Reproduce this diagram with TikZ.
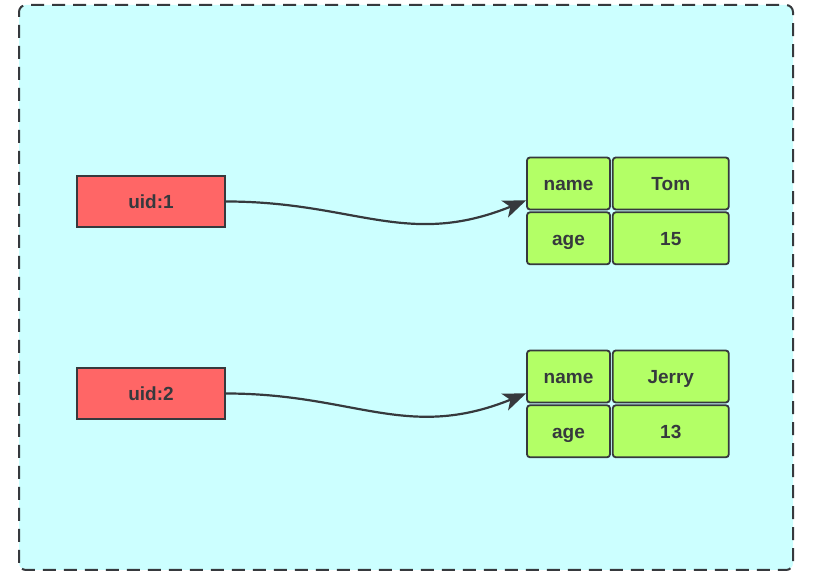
\documentclass[tikz,border=0pt]{standalone}
\usepackage{fontspec}
\setmainfont{Liberation Sans}
\usetikzlibrary{positioning, arrows.meta, calc}
\definecolor{bgCyan}{HTML}{CCFFFF}
\definecolor{keyRed}{HTML}{FF6666}
\definecolor{cellGreen}{HTML}{B3FF66}
\definecolor{lineGray}{HTML}{36393D}
\colorlet{textGray}{lineGray}

\begin{document}
\begin{tikzpicture}[
		x=1pt, y=1pt,
		node distance=1pt and 1pt,
		frame/.style={draw=lineGray, line width=2pt, dash pattern=on 13pt off 8pt,
			rounded corners=7pt, fill=bgCyan},
		box/.style={rectangle, draw=lineGray, line width=1.8pt, text=textGray,
			font=\fontsize{19}{21}\selectfont\bfseries, align=center,
			text height=15pt, text depth=0pt},
		key/.style={box, fill=keyRed, minimum width=148pt, minimum height=51pt},
		field/.style={box, fill=cellGreen, rounded corners=3pt, minimum width=83pt, minimum height=52pt},
		value/.style={field, minimum width=116pt},
		arrow/.style={-{Stealth[length=23pt, width=18pt, inset=6pt]}, line width=2.2pt, draw=lineGray},
		]
		\useasboundingbox (0,0) rectangle (814,577);
		
		% dashed container
		\draw[frame] (19,7) rectangle (793,572);
		
		% Keys (left)
		\node[key] (uid1) at (151,375.5) {uid:1};
		\node[key] (uid2) at (151,183.5) {uid:2};
		
		% Hash for uid:1
		\node[field] (name1) at (568.5,393.5) {name};
		\node[value, right=of name1] (tom) {Tom};
		\node[field, below=of name1] (age1) {age};
		\node[value, below=of tom] (val15) {15};
		
		% Hash for uid:2
		\node[field] (name2) at (568.5,200.5) {name};
		\node[value, right=of name2] (jerry) {Jerry};
		\node[field, below=of name2] (age2) {age};
		\node[value, below=of jerry] (val13) {13};
		
		% Pointers from keys to hashes
		\coordinate (tip1) at ([yshift=10pt]name1.south west);
		\coordinate (tip2) at ([yshift=10pt]name2.south west);
		\draw[arrow] (uid1.east) to[out=0, in=202, looseness=1.1] (tip1);
		\draw[arrow] (uid2.east) to[out=0, in=202, looseness=1.1] (tip2);
	\end{tikzpicture}
\end{document}
